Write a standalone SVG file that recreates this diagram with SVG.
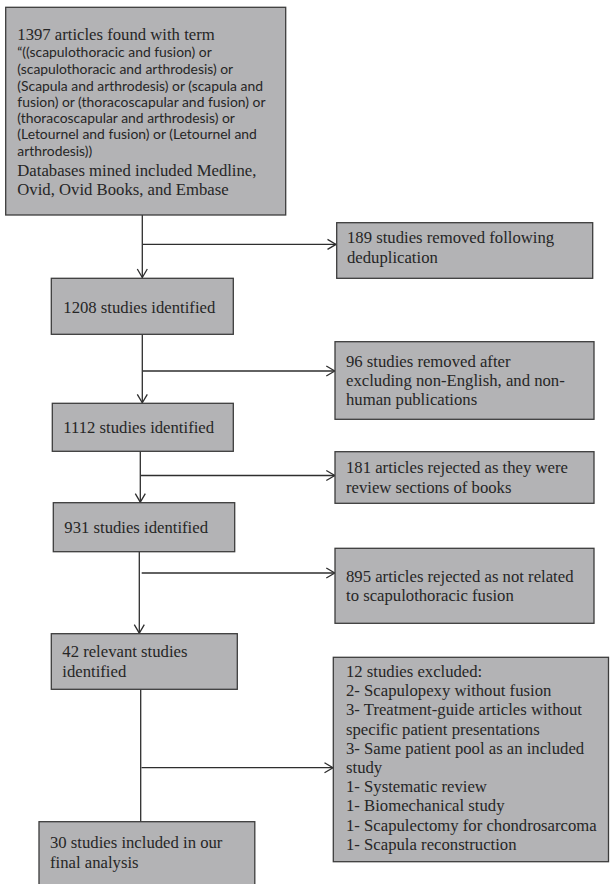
<svg xmlns="http://www.w3.org/2000/svg" width="610" height="884" viewBox="0 0 610 884">
<defs>
<marker id="arr" markerUnits="userSpaceOnUse" markerWidth="12" markerHeight="12" refX="8.5" refY="5" orient="auto" overflow="visible">
<path d="M0,0 L8.5,5 L0,10" fill="none" stroke="#2e2e2e" stroke-width="1.3"/>
</marker>
<style>
.box{fill:#b3b3b5;stroke:#3c3c3c;stroke-width:1.3}
.t{font-family:"Liberation Serif","Times New Roman",serif;font-size:16.7px;fill:#262626}
.s{font-family:Lato,"Liberation Sans",sans-serif;font-size:13.9px;fill:#262626}
.c{fill:none;stroke:#2e2e2e;stroke-width:1.3}
.a{marker-end:url(#arr)}
</style>
</defs>
<rect width="610" height="884" fill="#ffffff"/>
<g id="connectors">
<line class="c a" x1="142.3" y1="215" x2="142.3" y2="277.5"/>
<line class="c a" x1="143" y1="244.4" x2="336" y2="244.4"/>
<line class="c a" x1="142.3" y1="334.3" x2="142.3" y2="402.8"/>
<line class="c a" x1="143" y1="371" x2="334.8" y2="371"/>
<line class="c a" x1="140.3" y1="451.3" x2="140.3" y2="502.2"/>
<line class="c a" x1="141" y1="475.5" x2="334.8" y2="475.5"/>
<line class="c a" x1="139.3" y1="551.7" x2="139.3" y2="633.2"/>
<line class="c a" x1="141.7" y1="573" x2="334.8" y2="573"/>
<line class="c" x1="140.7" y1="689.3" x2="140.7" y2="821.7"/>
<line class="c a" x1="141.5" y1="767.7" x2="333" y2="767.7"/>
</g>
<g id="n-search">
<rect class="box" x="5.7" y="7.3" width="280" height="207.7"/>
<text class="t" x="17.3" y="40">1397 articles found with term</text>
<text class="s" x="17.3" y="57.3">“((scapulothoracic and fusion) or</text>
<text class="s" x="17.3" y="74">(scapulothoracic and arthrodesis) or</text>
<text class="s" x="17.3" y="90.7">(Scapula and arthrodesis) or (scapula and</text>
<text class="s" x="17.3" y="107">fusion) or (thoracoscapular and fusion) or</text>
<text class="s" x="17.3" y="123.3">(thoracoscapular and arthrodesis) or</text>
<text class="s" x="17.3" y="139.3">(Letournel and fusion) or (Letournel and</text>
<text class="s" x="17.3" y="156">arthrodesis))</text>
<text class="t" x="17.3" y="176">Databases mined included Medline,</text>
<text class="t" x="17.3" y="194.7">Ovid, Ovid Books, and Embase</text>
</g>
<g id="n-dedup">
<rect class="box" x="336.7" y="222.7" width="256" height="55.6"/>
<text class="t" x="347" y="243.3">189 studies removed following</text>
<text class="t" x="347" y="263">deduplication</text>
</g>
<g id="n-1208">
<rect class="box" x="51.3" y="278.3" width="182" height="56"/>
<text class="t" x="63.3" y="312.7">1208 studies identified</text>
</g>
<g id="n-96">
<rect class="box" x="335" y="341.7" width="259" height="77.6"/>
<text class="t" x="346" y="366.7">96 studies removed after</text>
<text class="t" x="346" y="385.9">excluding non-English, and non-</text>
<text class="t" x="346" y="405.1">human publications</text>
</g>
<g id="n-1112">
<rect class="box" x="52.3" y="403.3" width="181" height="48"/>
<text class="t" x="63.3" y="433.3">1112 studies identified</text>
</g>
<g id="n-181">
<rect class="box" x="335" y="451.7" width="259" height="51.6"/>
<text class="t" x="346" y="472.7">181 articles rejected as they were</text>
<text class="t" x="346" y="492.5">review sections of books</text>
</g>
<g id="n-931">
<rect class="box" x="53.3" y="502.7" width="181.4" height="49"/>
<text class="t" x="64.3" y="533.3">931 studies identified</text>
</g>
<g id="n-895">
<rect class="box" x="335" y="548.3" width="259" height="75"/>
<text class="t" x="346" y="581.7">895 articles rejected as not related</text>
<text class="t" x="346" y="600.7">to scapulothoracic fusion</text>
</g>
<g id="n-42">
<rect class="box" x="51.3" y="633.7" width="186" height="55.6"/>
<text class="t" x="62.3" y="657.3">42 relevant studies</text>
<text class="t" x="62.3" y="676.7">identified</text>
</g>
<g id="n-excluded">
<rect class="box" x="333.3" y="657.3" width="275.2" height="204.4"/>
<text class="t" x="346" y="677">12 studies excluded:</text>
<text class="t" x="346" y="696.2">2- Scapulopexy without fusion</text>
<text class="t" x="346" y="715.4">3- Treatment-guide articles without</text>
<text class="t" x="346" y="734.6">specific patient presentations</text>
<text class="t" x="346" y="753.8">3- Same patient pool as an included</text>
<text class="t" x="346" y="773">study</text>
<text class="t" x="346" y="792.2">1- Systematic review</text>
<text class="t" x="346" y="811.4">1- Biomechanical study</text>
<text class="t" x="346" y="830.6">1- Scapulectomy for chondrosarcoma</text>
<text class="t" x="346" y="849.8">1- Scapula reconstruction</text>
</g>
<g id="n-final">
<rect class="box" x="39" y="821.7" width="215.8" height="80"/>
<text class="t" x="50" y="848.3">30 studies included in our</text>
<text class="t" x="50" y="868.3">final analysis</text>
</g>
</svg>
